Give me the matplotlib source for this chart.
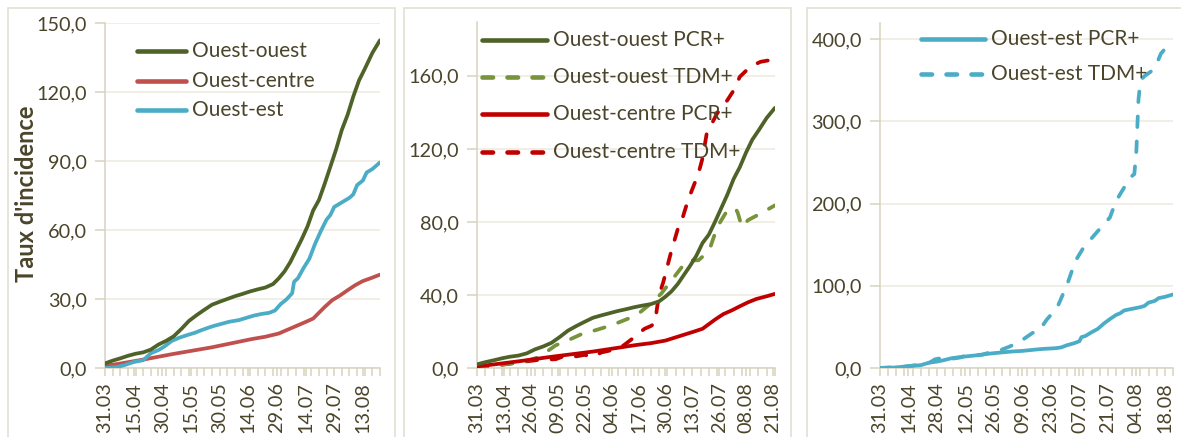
import matplotlib
matplotlib.use("Agg")
import matplotlib.pyplot as plt
from matplotlib.patches import Rectangle
from matplotlib.ticker import FixedLocator, MultipleLocator, FuncFormatter

plt.rcParams['font.family'] = ['Lato', 'DejaVu Sans']
plt.rcParams['lines.scale_dashes'] = False

# ---------------- data (day offset from 31.03) ----------------
oo_pcr_days = [0, 4, 8, 12, 16, 20, 24, 28, 32, 36, 40, 44, 48, 52, 56, 60, 64, 68, 72, 76, 80, 84, 88,
               91, 94, 97, 100, 103, 106, 109, 112, 115, 118, 121, 124, 127, 130, 133, 136, 140, 144]
oo_pcr_vals = [2.0, 3.2, 4.2, 5.3, 6.2, 6.8, 8.0, 10.2, 11.8, 13.8, 17.0, 20.5, 23.0, 25.3, 27.5, 28.8,
               30.0, 31.2, 32.2, 33.3, 34.2, 35.0, 36.5, 39.0, 42.0, 46.0, 51.0, 56.0, 61.5, 68.5, 73.0,
               80.0, 87.5, 95.0, 103.5, 110.0, 118.0, 125.0, 130.0, 137.0, 142.5]

oc_pcr_days = [0, 7, 14, 21, 28, 35, 42, 49, 56, 63, 70, 77, 84, 91, 98, 105, 109, 112, 115, 119, 123,
               127, 131, 135, 140, 144]
oc_pcr_vals = [0.9, 1.8, 2.8, 3.8, 4.9, 6.0, 7.0, 8.0, 9.0, 10.2, 11.4, 12.6, 13.6, 15.0, 17.5, 20.0,
               21.5, 24.0, 26.5, 29.5, 31.5, 33.8, 36.0, 37.8, 39.3, 40.6]

oe_pcr_days = [0, 6, 10, 15, 20, 24, 28, 31, 35, 39, 43, 47, 50, 54, 57, 61, 65, 70, 74, 78, 82, 86, 89,
               92, 95, 98, 99, 101, 104, 107, 110, 113, 116, 118, 120, 124, 128, 130, 132, 135, 137, 140, 144]
oe_pcr_vals = [0.0, 0.4, 1.2, 2.6, 3.4, 6.4, 7.8, 9.3, 11.8, 13.2, 14.3, 15.3, 16.3, 17.5, 18.3, 19.2,
               20.1, 20.8, 21.8, 22.8, 23.5, 24.0, 25.0, 27.8, 29.8, 32.5, 37.5, 39.0, 43.5, 47.5, 54.0,
               59.5, 64.5, 66.5, 70.0, 72.0, 74.0, 75.5, 79.5, 81.5, 85.0, 86.5, 89.4]

oo_tdm_days = [0, 10, 20, 25, 30, 38, 44, 51, 57, 65, 73, 79, 84, 89, 94, 99, 102, 107, 110, 113, 116,
               119, 121, 125, 126, 128, 131, 137, 144]
oo_tdm_vals = [0.5, 1.5, 3.0, 4.2, 6.0, 12.4, 15.2, 18.8, 20.6, 23.4, 27.0, 30.7, 35.3, 40.7, 48.0, 55.3,
               59.0, 59.0, 62.0, 67.0, 77.0, 82.7, 86.4, 87.3, 85.0, 77.3, 81.0, 84.6, 89.1]

oc_tdm_days = [0, 10, 20, 30, 38, 42, 46, 52, 56, 60, 64, 68, 71, 75, 78, 81, 84, 86, 87, 88, 90, 94, 97,
               99, 102, 107, 109, 111, 114, 116, 121, 124, 127, 132, 137, 141, 144]
oc_tdm_vals = [0.5, 1.5, 3.0, 4.5, 4.8, 6.5, 6.0, 7.2, 6.0, 8.5, 9.5, 11.0, 12.5, 16.0, 19.0, 21.5, 23.0,
               24.5, 33.0, 40.0, 47.0, 64.5, 76.0, 81.0, 92.0, 106.5, 115.0, 128.4, 135.0, 139.4, 146.7,
               152.0, 159.5, 165.0, 167.7, 168.5, 170.4]

oe_tdm_days = [0, 14, 24, 27, 29, 32, 36, 40, 42, 45, 50, 54, 57, 59, 64, 69, 75, 78, 82, 87, 92, 96, 100,
               105, 110, 113, 116, 120, 123, 125, 126, 127, 128, 130, 134, 136, 138, 140]
oe_tdm_vals = [0.0, 2.0, 6.0, 10.5, 11.5, 9.5, 11.5, 13.0, 15.5, 14.5, 16.0, 19.0, 21.0, 21.5, 26.4, 32.5,
               42.7, 44.7, 59.0, 73.0, 101.6, 130.0, 146.3, 160.6, 174.8, 183.0, 203.0, 219.5, 231.7, 235.8,
               264.0, 325.0, 350.0, 355.0, 362.0, 370.0, 382.0, 388.0]

# tick labels
labels_p1 = ['31.03', '15.04', '30.04', '15.05', '30.05', '14.06', '29.06', '14.07', '29.07', '13.08']
labels_p2 = ['31.03', '13.04', '26.04', '09.05', '22.05', '04.06', '17.06', '30.06', '13.07', '26.07',
             '08.08', '21.08']
labels_p3 = ['31.03', '14.04', '28.04', '12.05', '26.05', '09.06', '23.06', '07.07', '21.07', '04.08',
             '18.08']

# ---------------- style ----------------
W, H = 1181, 437
TXT = '#4A452A'
GRID = '#ECE9DE'
AXC = '#D8D3C0'
BORDER = '#E3DFD2'
C_OO = '#4F6228'
C_OC = '#C0504D'
C_OE = '#4BACC6'
C_OO2 = '#77933C'
C_RED = '#C00000'
LW = 2.7
DASH = (7.6, 10.4)   # points (dash, gap) incl. round caps
FS = 14.3

fig = plt.figure(figsize=(W / 100, H / 100), dpi=100)
fig.patch.set_facecolor('white')

# panel frames
for x0, x1 in [(8, 395), (404, 791), (807, 1200)]:
    fig.patches.append(Rectangle((x0 / W, -0.1), (x1 - x0) / W, 1.1 - 8 / H,
                                 transform=fig.transFigure, fill=False,
                                 edgecolor=BORDER, linewidth=1.2, zorder=0))


def make_ax(left, right, ytop, ymax, ystep, labels, step):
    ax = fig.add_axes([left / W, 1 - 368 / H, (right - left) / W, (368 - ytop) / H])
    ax.set_xlim(0, 144)
    ax.set_ylim(0, ymax)
    ax.yaxis.set_major_locator(MultipleLocator(ystep))
    ax.yaxis.set_major_formatter(FuncFormatter(lambda v, p: f"{v:.1f}".replace('.', ',')))
    ax.grid(axis='y', color=GRID, linewidth=1.1, zorder=0)
    for s in ['top', 'right']:
        ax.spines[s].set_visible(False)
    for s in ['left', 'bottom']:
        ax.spines[s].set_color(AXC)
        ax.spines[s].set_linewidth(1.1)
    ax.tick_params(axis='y', colors=AXC, labelcolor=TXT, labelsize=FS, length=7, width=1.1, pad=6)
    ax.xaxis.set_major_locator(FixedLocator([i * step for i in range(len(labels))]))
    ax.set_xticklabels(labels, rotation=90)
    ax.xaxis.set_minor_locator(MultipleLocator(4))
    ax.tick_params(axis='x', which='both', colors=AXC, labelcolor=TXT, labelsize=FS,
                   length=6, width=1.1, pad=4)
    ax.set_facecolor('none')
    return ax


def leg(ax, handles, x_line0, x_line1, ys):
    for (color, ls, text), y in zip(handles, ys):
        yy = 1 - y / H
        ln = plt.Line2D([x_line0 / W, x_line1 / W], [yy, yy], transform=fig.transFigure,
                        color=color, lw=LW + 0.6, solid_capstyle='round', dash_capstyle='round')
        if ls == 'dash':
            ln.set_dashes(DASH)
        fig.add_artist(ln)
        fig.text((x_line1 + 6) / W, yy, text, color=TXT, fontsize=FS + 0.7, va='center', ha='left')


def plot_line(ax, d, v, color, dashed=False):
    ln, = ax.plot(d, v, color=color, lw=LW, solid_joinstyle='round', solid_capstyle='round',
                  dash_capstyle='round', zorder=3)
    if dashed:
        ln.set_dashes(DASH)
    return ln


# ---- panel 1 ----
ax1 = make_ax(105, 380, 23, 150, 30, labels_p1, 15)
plot_line(ax1, oc_pcr_days, oc_pcr_vals, C_OC)
plot_line(ax1, oe_pcr_days, oe_pcr_vals, C_OE)
plot_line(ax1, oo_pcr_days, oo_pcr_vals, C_OO)
ax1.set_ylabel("Taux d'incidence", color=TXT, fontsize=17, fontweight='bold')
ax1.yaxis.set_label_coords(-0.245, 0.505)
leg(ax1, [(C_OO, 'solid', 'Ouest-ouest'), (C_OC, 'solid', 'Ouest-centre'), (C_OE, 'solid', 'Ouest-est')],
    137, 186, [51, 81, 110])

# ---- panel 2 ----
ax2 = make_ax(477, 775, 22, 189.5, 40, labels_p2, 13)
plot_line(ax2, oc_tdm_days, oc_tdm_vals, C_RED, dashed=True)
plot_line(ax2, oo_tdm_days, oo_tdm_vals, C_OO2, dashed=True)
plot_line(ax2, oc_pcr_days, oc_pcr_vals, C_RED)
plot_line(ax2, oo_pcr_days, oo_pcr_vals, C_OO)
leg(ax2, [(C_OO, 'solid', 'Ouest-ouest PCR+'), (C_OO2, 'dash', 'Ouest-ouest TDM+'),
          (C_RED, 'solid', 'Ouest-centre PCR+'), (C_RED, 'dash', 'Ouest-centre TDM+')],
    482, 547, [40, 77, 114, 152])

# ---- panel 3 ----
ax3 = make_ax(880, 1173, 23, 419.5, 100, labels_p3, 14)
plot_line(ax3, oe_tdm_days, oe_tdm_vals, C_OE, dashed=True)
plot_line(ax3, oe_pcr_days, oe_pcr_vals, C_OE)
leg(ax3, [(C_OE, 'solid', 'Ouest-est PCR+'), (C_OE, 'dash', 'Ouest-est TDM+')],
    921, 985, [39, 74])

fig.savefig('out.png', dpi=100, facecolor='white')
